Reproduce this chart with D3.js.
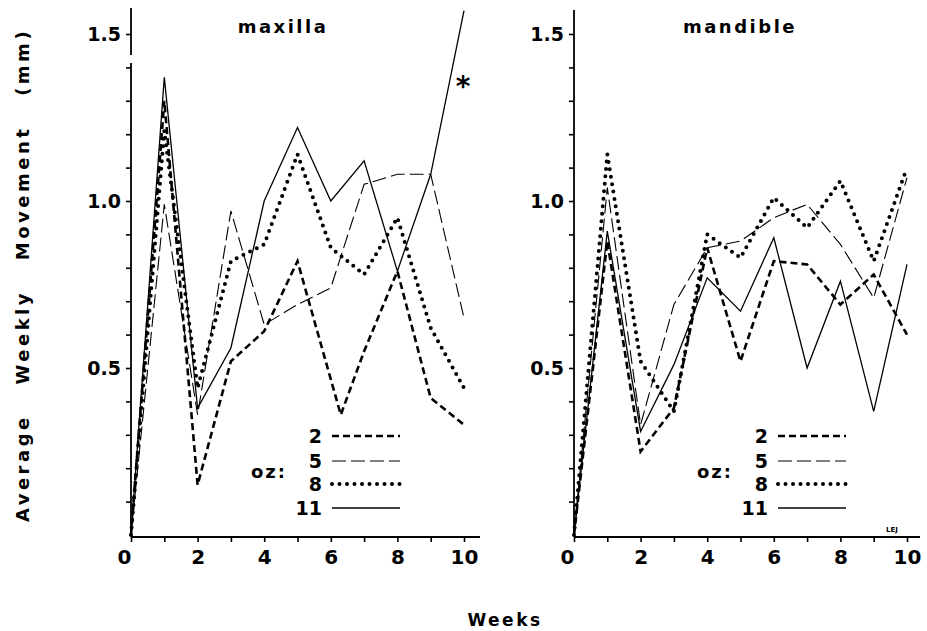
<!DOCTYPE html>
<html>
<head>
<meta charset="utf-8">
<script src="https://cdn.jsdelivr.net/npm/d3@7"></script>
<style>
body { margin: 0; background: #fff; }
text { font-family: "DejaVu Sans", sans-serif; font-weight: bold; fill: #000; }
</style>
</head>
<body>
<div id="viz"></div>
<script>
// weeks on the x axis
const weeks = [0, 1, 2, 3, 4, 5, 6, 7, 8, 9, 10];
const weeksMax2 = [0, 1, 2, 3, 4, 5, 6.3, 7, 8, 9, 10];
const xTickLabels = ["0", "2", "4", "6", "8", "10"];
const yTickLabels = [0.5, 1.0, 1.5];
const ozLabels = ["2", "5", "8", "11"];

// maxilla, average weekly movement (mm)
const maxilla2 = [0, 1.30, 0.15, 0.52, 0.61, 0.82, 0.36, 0.55, 0.79, 0.41, 0.33];
const maxilla5 = [0, 0.99, 0.36, 0.97, 0.63, 0.69, 0.74, 1.05, 1.08, 1.08, 0.65];
const maxilla8 = [0, 1.21, 0.44, 0.82, 0.87, 1.14, 0.86, 0.78, 0.95, 0.62, 0.44];
const maxilla11 = [0, 1.37, 0.38, 0.56, 1.00, 1.22, 1.00, 1.12, 0.79, 1.08, 1.57];

// mandible
const mandible2 = [0, 0.88, 0.25, 0.38, 0.86, 0.52, 0.82, 0.81, 0.69, 0.78, 0.60];
const mandible5 = [0, 1.04, 0.33, 0.69, 0.86, 0.88, 0.95, 0.99, 0.87, 0.71, 1.07];
const mandible8 = [0, 1.14, 0.52, 0.37, 0.90, 0.83, 1.01, 0.92, 1.06, 0.82, 1.10];
const mandible11 = [0, 0.91, 0.31, 0.51, 0.77, 0.67, 0.89, 0.50, 0.76, 0.37, 0.81];

const W = 927, H = 631;
const svg = d3.select("#viz").append("svg").attr("width", W).attr("height", H);

// line styles per oz group
const styles = {
  "2": {w: 2.6, dash: "7,4", cap: "butt"},
  "5": {w: 1.1, dash: "14,5", cap: "butt"},
  "8": {w: 4, dash: "0,7.5", cap: "round"},
  "11": {w: 1.3, dash: null, cap: "butt"}
};

const y = d3.scaleLinear().domain([0, 1.5]).range([535, 34]);

const panels = [
  {title: "maxilla", x0: 131, x1: 464, axisTop: 8, brk: true, titleX: 283, xEnd: 480,
   series: [[weeksMax2, maxilla2, "2"], [weeks, maxilla5, "5"], [weeks, maxilla8, "8"], [weeks, maxilla11, "11"]],
   legX: 322},
  {title: "mandible", x0: 574, x1: 907, axisTop: 10, brk: false, titleX: 740, xEnd: 920,
   series: [[weeks, mandible2, "2"], [weeks, mandible5, "5"], [weeks, mandible8, "8"], [weeks, mandible11, "11"]],
   legX: 768}
];

panels.forEach(p => {
  const x = d3.scaleLinear().domain([0, 10]).range([p.x0, p.x1]);
  const g = svg.append("g");

  // y axis (ticks every 0.1)
  const yAxis = g.append("g")
    .attr("transform", `translate(${p.x0},0)`)
    .call(d3.axisLeft(y)
      .tickValues(d3.range(1, 16).map(d => d / 10))
      .tickSize(5)
      .tickFormat(d => yTickLabels.some(v => Math.abs(v - d) < 1e-6) ? d3.format(".1f")(d) : ""));
  yAxis.select(".domain").remove();
  yAxis.selectAll("line").attr("stroke", "#000").attr("stroke-width", 1.6);
  yAxis.selectAll("text").attr("font-size", 19).attr("x", -10).attr("dy", "0.35em")
    .attr("font-family", "DejaVu Sans").attr("font-weight", "bold");

  // axis line, maxilla one is broken above 1.4
  if (p.brk) {
    g.append("line").attr("x1", p.x0).attr("x2", p.x0).attr("y1", p.axisTop).attr("y2", 55)
      .attr("stroke", "#000").attr("stroke-width", 1.8);
    g.append("line").attr("x1", p.x0).attr("x2", p.x0).attr("y1", 63).attr("y2", y(0))
      .attr("stroke", "#000").attr("stroke-width", 1.8);
  } else {
    g.append("line").attr("x1", p.x0).attr("x2", p.x0).attr("y1", p.axisTop).attr("y2", y(0))
      .attr("stroke", "#000").attr("stroke-width", 1.8);
  }

  // x axis
  const xAxis = g.append("g")
    .attr("transform", `translate(0,${y(0) + 2})`)
    .call(d3.axisBottom(x)
      .tickValues(weeks)
      .tickSize(5)
      .tickFormat(d => xTickLabels.includes(String(d)) ? d : ""));
  xAxis.select(".domain").remove();
  xAxis.selectAll("line").attr("stroke", "#000").attr("stroke-width", 1.6);
  xAxis.selectAll("text").attr("font-size", 20).attr("y", 13).attr("dy", "0.71em")
    .attr("font-family", "DejaVu Sans").attr("font-weight", "bold");
  xAxis.selectAll(".tick").filter(d => d === 0).select("text").attr("dx", -7);
  g.append("line").attr("x1", p.x0).attr("x2", p.xEnd).attr("y1", y(0) + 2).attr("y2", y(0) + 2)
    .attr("stroke", "#000").attr("stroke-width", 2.2);

  // title
  g.append("text").attr("x", p.titleX).attr("y", 33).attr("text-anchor", "middle")
    .attr("font-size", 18).attr("letter-spacing", 2.5).text(p.title);

  // lines
  const line = d3.line();
  p.series.forEach(([wk, vals, oz]) => {
    const s = styles[oz];
    g.append("path")
      .attr("d", line(vals.map((v, i) => [x(wk[i]), y(v)])))
      .attr("fill", "none")
      .attr("stroke", "#000")
      .attr("stroke-width", s.w)
      .attr("stroke-dasharray", s.dash)
      .attr("stroke-linecap", s.cap)
      .attr("stroke-linejoin", "miter");
  });

  // legend
  const legY = [436, 461, 484, 508];
  ozLabels.forEach((oz, i) => {
    const s = styles[oz];
    g.append("text").attr("x", p.legX).attr("y", legY[i]).attr("dy", "0.35em")
      .attr("text-anchor", "end").attr("font-size", 19).text(oz);
    g.append("line")
      .attr("x1", p.legX + 10).attr("x2", p.legX + 78)
      .attr("y1", legY[i]).attr("y2", legY[i])
      .attr("stroke", "#000").attr("stroke-width", s.w)
      .attr("stroke-dasharray", s.dash).attr("stroke-linecap", s.cap);
  });
  g.append("text").attr("x", p.legX - 35).attr("y", 472).attr("dy", "0.35em")
    .attr("text-anchor", "end").attr("font-size", 18).attr("letter-spacing", 2).text("oz:");
});

// asterisk by the maxilla 11 oz line
svg.append("text").attr("x", 463).attr("y", 96).attr("text-anchor", "middle")
  .attr("font-size", 28).text("*");

// initials
svg.append("text").attr("x", 892).attr("y", 532).attr("text-anchor", "middle")
  .attr("font-size", 7).attr("font-weight", "normal").text("LEJ");

// axis titles
svg.append("text").attr("transform", "translate(29,275) rotate(-90)")
  .attr("text-anchor", "middle").attr("font-size", 18).attr("letter-spacing", 3.5)
  .attr("word-spacing", 20).text("Average Weekly Movement (mm)");
svg.append("text").attr("x", 505).attr("y", 626).attr("text-anchor", "middle")
  .attr("font-size", 17).attr("letter-spacing", 2.5).text("Weeks");
</script>
</body>
</html>
